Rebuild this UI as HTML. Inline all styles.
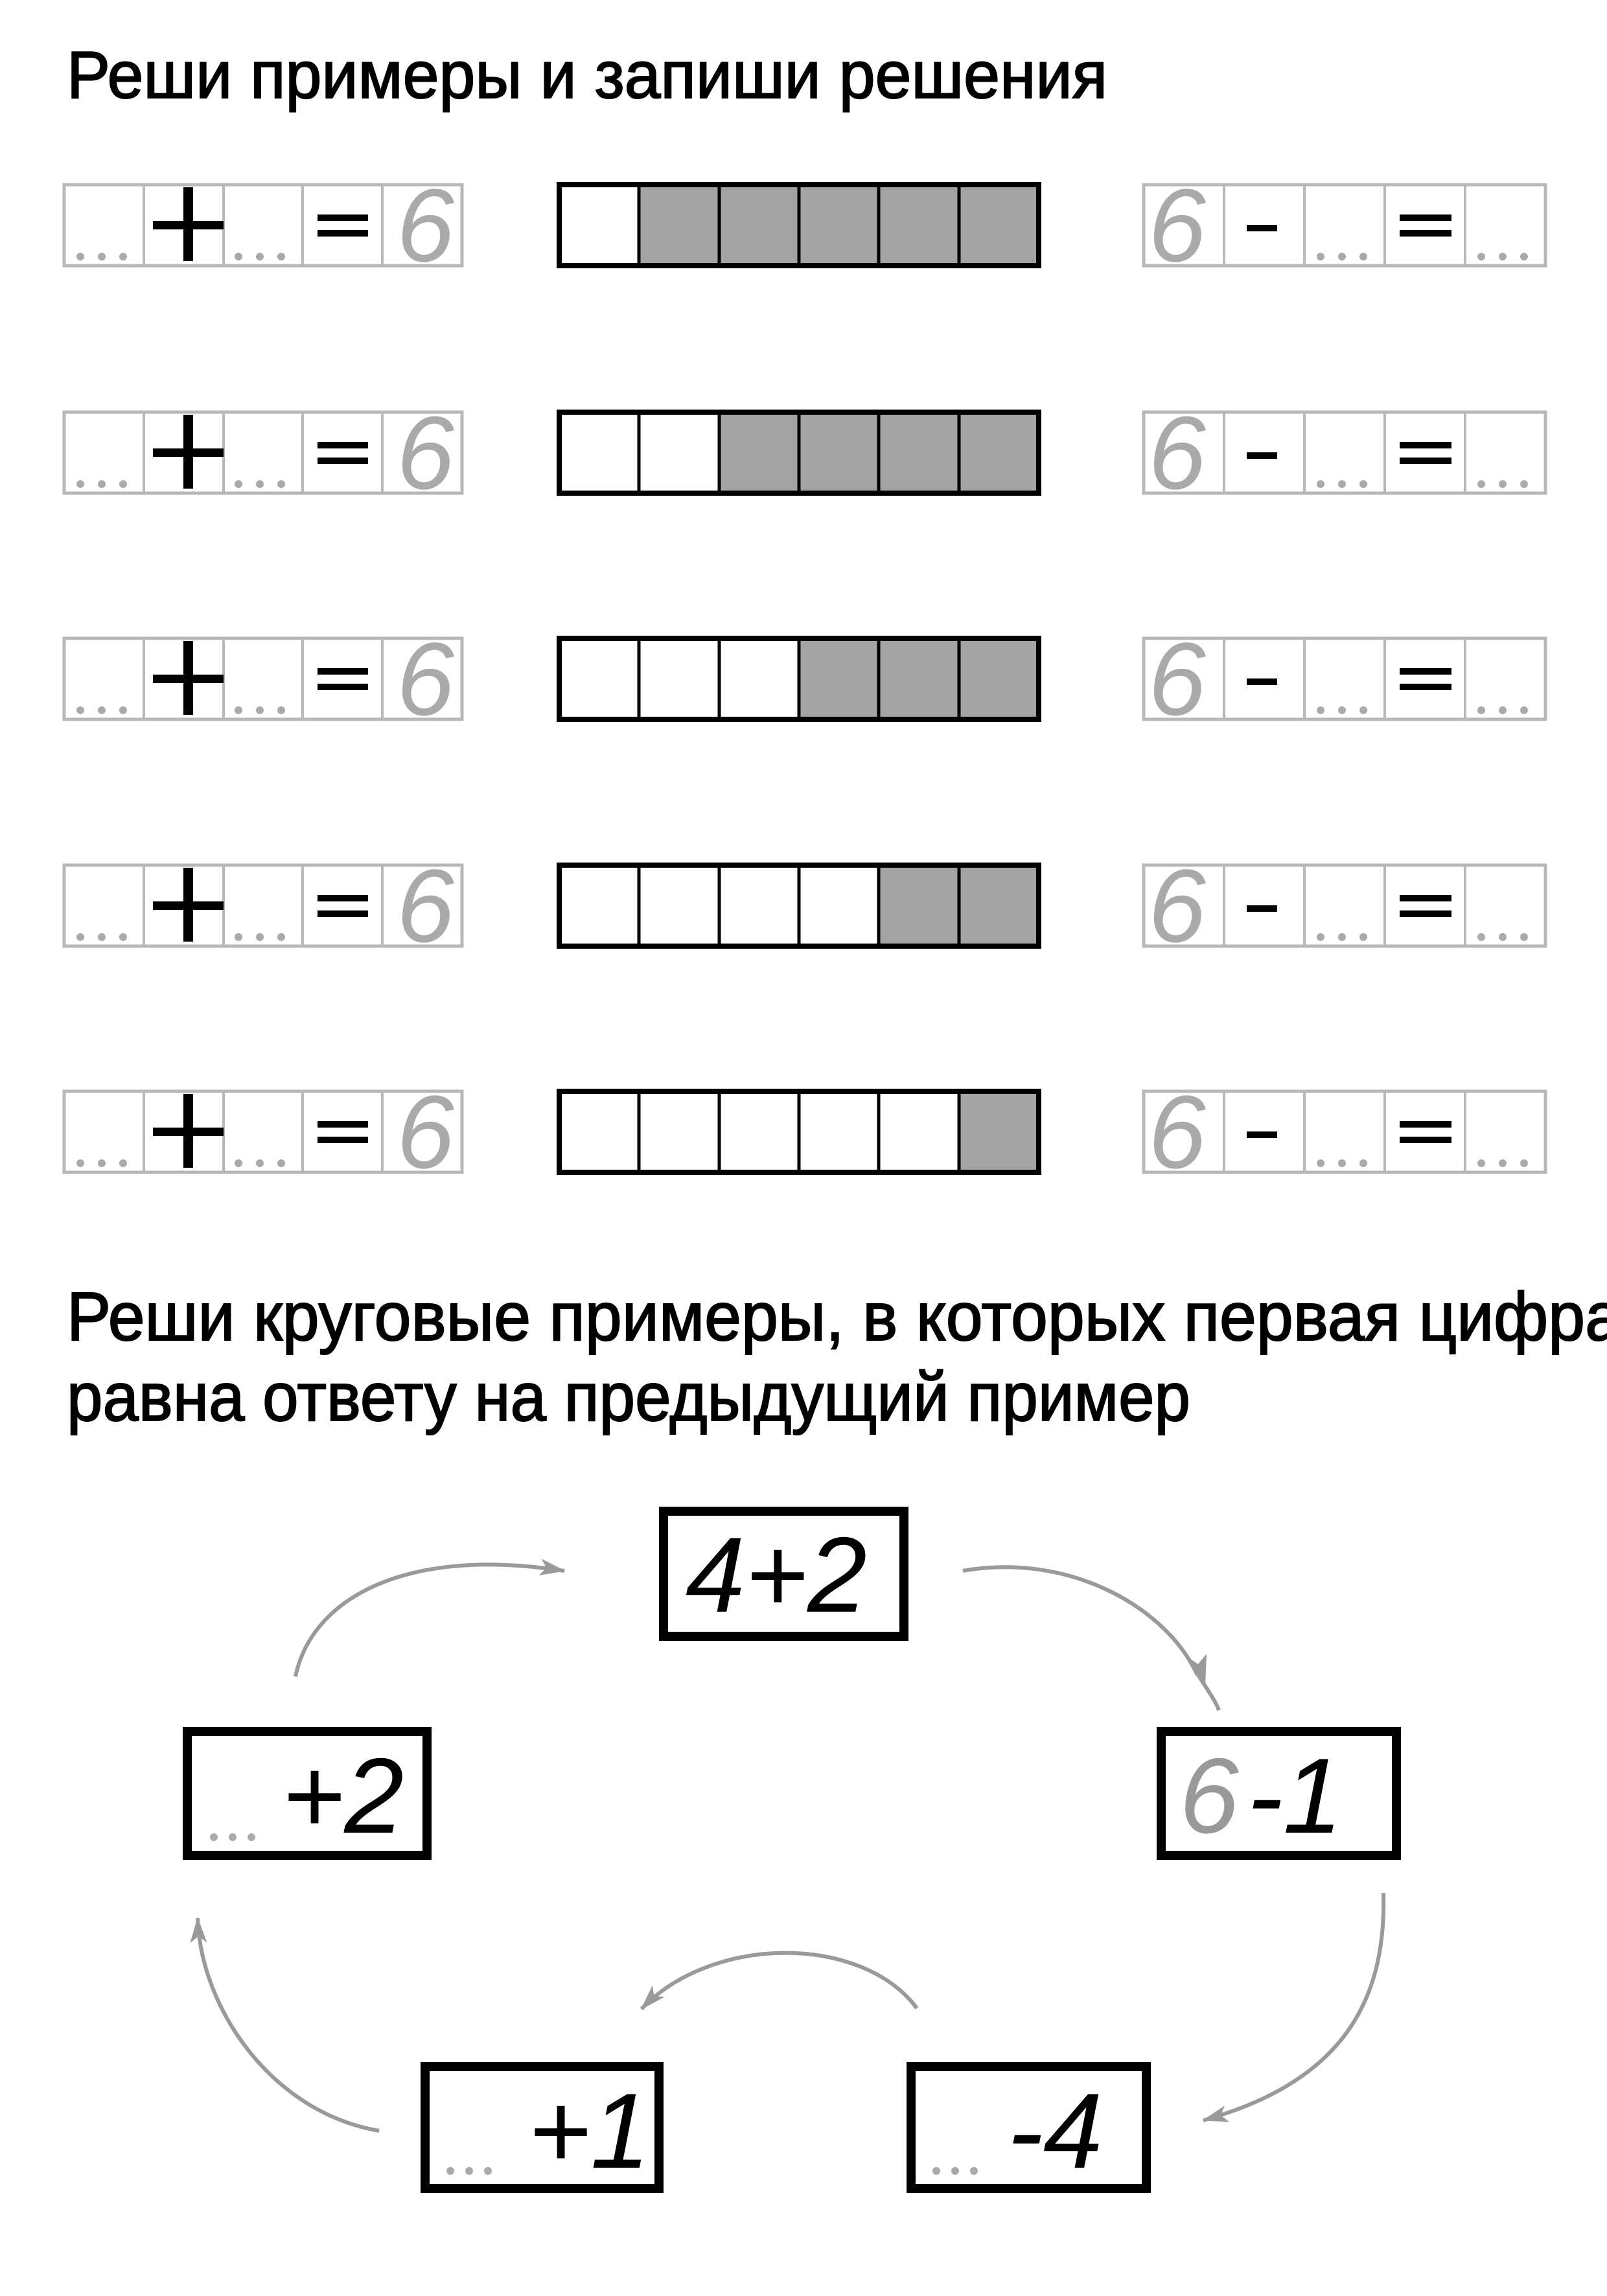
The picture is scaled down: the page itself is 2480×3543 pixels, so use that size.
<!DOCTYPE html>
<html><head><meta charset="utf-8"><style>html,body{margin:0;padding:0;background:#fff}svg{display:block}</style></head>
<body>
<svg width="2480" height="3543" viewBox="0 0 2480 3543" xmlns="http://www.w3.org/2000/svg">
<defs>
<marker id="a" viewBox="0 0 40 26" refX="38" refY="13" markerWidth="40" markerHeight="26" markerUnits="userSpaceOnUse" orient="auto"><path d="M0,0 L40,13 L0,26 L10,13 Z" fill="#9a9a9a"/></marker>
<g id="lg">
<rect x="99" y="0" width="614" height="125" fill="none" stroke="#b8b8b8" stroke-width="5"/>
<path d="M222,0V125M345,0V125M467,0V125M590,0V125" stroke="#b8b8b8" stroke-width="4"/>
<circle cx="124" cy="111" r="6" fill="#aaa"/><circle cx="157" cy="111" r="6" fill="#aaa"/><circle cx="190" cy="111" r="6" fill="#aaa"/>
<circle cx="368" cy="111" r="6" fill="#aaa"/><circle cx="401" cy="111" r="6" fill="#aaa"/><circle cx="434" cy="111" r="6" fill="#aaa"/>
<rect x="236" y="56" width="109" height="13" fill="#000"/><rect x="283" y="4" width="15" height="114" fill="#000"/>
<rect x="490" y="46" width="78" height="10" fill="#000"/><rect x="490" y="70" width="78" height="10" fill="#000"/>
<rect x="1765" y="0" width="620" height="125" fill="none" stroke="#b8b8b8" stroke-width="5"/>
<path d="M1889,0V125M2013,0V125M2137,0V125M2261,0V125" stroke="#b8b8b8" stroke-width="4"/>
<rect x="1924" y="62" width="47" height="10" fill="#000"/>
<circle cx="2038" cy="111" r="6" fill="#aaa"/><circle cx="2071" cy="111" r="6" fill="#aaa"/><circle cx="2104" cy="111" r="6" fill="#aaa"/>
<rect x="2160" y="46" width="80" height="10" fill="#000"/><rect x="2160" y="70" width="80" height="10" fill="#000"/>
<circle cx="2286" cy="111" r="6" fill="#aaa"/><circle cx="2319" cy="111" r="6" fill="#aaa"/><circle cx="2352" cy="111" r="6" fill="#aaa"/>
</g>
</defs>

<text x="103" y="151" font-family="Liberation Sans, sans-serif" font-size="103" textLength="1606" lengthAdjust="spacingAndGlyphs" fill="#000" stroke="#000" stroke-width="2">Реши примеры и запиши решения</text>

<g transform="translate(0,285)"><use href="#lg"/>
<text x="612" y="118" font-family="Liberation Sans, sans-serif" font-style="italic" font-size="160" fill="#aaa">6</text>
<text x="1772" y="118" font-family="Liberation Sans, sans-serif" font-style="italic" font-size="160" fill="#aaa">6</text>
<rect x="863" y="0" width="740" height="125" fill="#a3a3a3"/>
<rect x="863" y="0" width="123" height="125" fill="#fff"/>
<path d="M986,0V125M1110,0V125M1233,0V125M1356,0V125M1480,0V125" stroke="#000" stroke-width="5"/>
<rect x="863" y="0" width="740" height="125" fill="none" stroke="#000" stroke-width="8"/>
</g>
<g transform="translate(0,636)"><use href="#lg"/>
<text x="612" y="118" font-family="Liberation Sans, sans-serif" font-style="italic" font-size="160" fill="#aaa">6</text>
<text x="1772" y="118" font-family="Liberation Sans, sans-serif" font-style="italic" font-size="160" fill="#aaa">6</text>
<rect x="863" y="0" width="740" height="125" fill="#a3a3a3"/>
<rect x="863" y="0" width="247" height="125" fill="#fff"/>
<path d="M986,0V125M1110,0V125M1233,0V125M1356,0V125M1480,0V125" stroke="#000" stroke-width="5"/>
<rect x="863" y="0" width="740" height="125" fill="none" stroke="#000" stroke-width="8"/>
</g>
<g transform="translate(0,985)"><use href="#lg"/>
<text x="612" y="118" font-family="Liberation Sans, sans-serif" font-style="italic" font-size="160" fill="#aaa">6</text>
<text x="1772" y="118" font-family="Liberation Sans, sans-serif" font-style="italic" font-size="160" fill="#aaa">6</text>
<rect x="863" y="0" width="740" height="125" fill="#a3a3a3"/>
<rect x="863" y="0" width="370" height="125" fill="#fff"/>
<path d="M986,0V125M1110,0V125M1233,0V125M1356,0V125M1480,0V125" stroke="#000" stroke-width="5"/>
<rect x="863" y="0" width="740" height="125" fill="none" stroke="#000" stroke-width="8"/>
</g>
<g transform="translate(0,1335)"><use href="#lg"/>
<text x="612" y="118" font-family="Liberation Sans, sans-serif" font-style="italic" font-size="160" fill="#aaa">6</text>
<text x="1772" y="118" font-family="Liberation Sans, sans-serif" font-style="italic" font-size="160" fill="#aaa">6</text>
<rect x="863" y="0" width="740" height="125" fill="#a3a3a3"/>
<rect x="863" y="0" width="493" height="125" fill="#fff"/>
<path d="M986,0V125M1110,0V125M1233,0V125M1356,0V125M1480,0V125" stroke="#000" stroke-width="5"/>
<rect x="863" y="0" width="740" height="125" fill="none" stroke="#000" stroke-width="8"/>
</g>
<g transform="translate(0,1684)"><use href="#lg"/>
<text x="612" y="118" font-family="Liberation Sans, sans-serif" font-style="italic" font-size="160" fill="#aaa">6</text>
<text x="1772" y="118" font-family="Liberation Sans, sans-serif" font-style="italic" font-size="160" fill="#aaa">6</text>
<rect x="863" y="0" width="740" height="125" fill="#a3a3a3"/>
<rect x="863" y="0" width="617" height="125" fill="#fff"/>
<path d="M986,0V125M1110,0V125M1233,0V125M1356,0V125M1480,0V125" stroke="#000" stroke-width="5"/>
<rect x="863" y="0" width="740" height="125" fill="none" stroke="#000" stroke-width="8"/>
</g>

<text x="103" y="2068" font-family="Liberation Sans, sans-serif" font-size="106" textLength="2400" lengthAdjust="spacingAndGlyphs" fill="#000" stroke="#000" stroke-width="2">Реши круговые примеры, в которых первая цифра</text>
<text x="103" y="2192" font-family="Liberation Sans, sans-serif" font-size="106" textLength="1734" lengthAdjust="spacingAndGlyphs" fill="#000" stroke="#000" stroke-width="2">равна ответу на предыдущий пример</text>

<g fill="none" stroke="#9a9a9a" stroke-width="6">
<path d="M456,2587 C480,2470 620,2385 871,2424" marker-end="url(#a)"/>
<path d="M1486,2424 C1650,2395 1800,2480 1848,2585"/>
<path d="M1846,2580 C1865,2610 1876,2625 1881,2639"/>
<path d="M2135,2921 C2140,3100 2060,3215 1857,3272" marker-end="url(#a)"/>
<path d="M1415,3099 C1330,2985 1100,2985 990,3100" marker-end="url(#a)"/>
<path d="M585,3288 C420,3260 310,3100 305,2960" marker-end="url(#a)"/>
</g>
<path d="M1860,2602 L1830,2555 L1849,2568 L1862,2552 Z" fill="#9a9a9a"/>

<g fill="#fff" stroke="#000" stroke-width="14">
<rect x="1024" y="2332" width="371" height="193"/>
<rect x="289" y="2672" width="370" height="191"/>
<rect x="1792" y="2672" width="363" height="191"/>
<rect x="656" y="3189" width="361" height="188"/>
<rect x="1406" y="3189" width="363" height="188"/>
</g>
<g font-family="Liberation Sans, sans-serif" font-style="italic" font-size="165">
<text x="1058" y="2487" fill="#000">4+2</text>
<text x="435" y="2828" fill="#000">+2</text>
<text x="1820" y="2828" fill="#999">6</text>
<text x="1925" y="2828" fill="#000">-1</text>
<text x="815" y="3345" fill="#000">+1</text>
<text x="1555" y="3345" fill="#000">-4</text>
</g>
<g fill="#aaa">
<circle cx="330" cy="2835" r="6"/><circle cx="359" cy="2835" r="6"/><circle cx="388" cy="2835" r="6"/>
<circle cx="695" cy="3350" r="6"/><circle cx="724" cy="3350" r="6"/><circle cx="753" cy="3350" r="6"/>
<circle cx="1445" cy="3350" r="6"/><circle cx="1474" cy="3350" r="6"/><circle cx="1503" cy="3350" r="6"/>
</g>
</svg>
</body></html>
